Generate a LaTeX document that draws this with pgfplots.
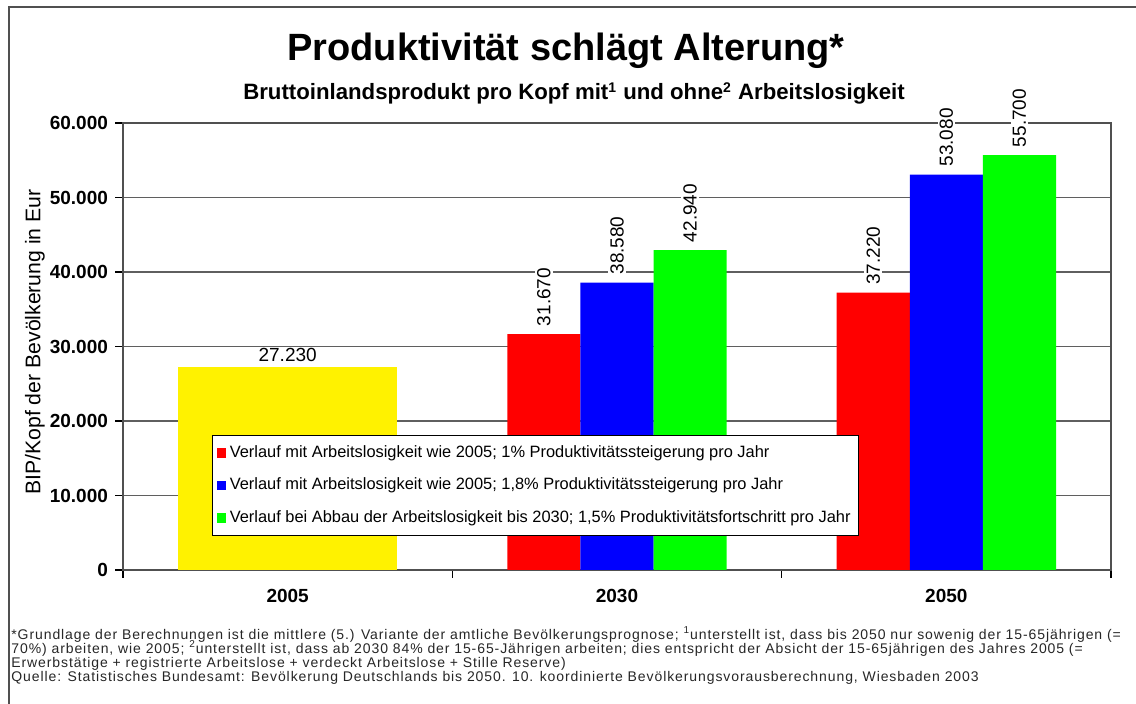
\documentclass[border=0pt]{standalone}
\usepackage{pgfplots}
\pgfplotsset{compat=1.18}
\usepackage{fontspec}
\setmainfont{Liberation Sans}
\newfontfamily\fnfont[LetterSpace=6.5]{Liberation Sans}
\definecolor{gridc}{RGB}{95,95,95}
\definecolor{frame}{RGB}{80,80,80}
\begin{document}
\begin{tikzpicture}
\path[use as bounding box] (0,0) rectangle (568pt,352pt);
\draw[frame, line width=1pt] (4.5pt,0) -- (4.5pt,348.5pt) -- (568pt,348.5pt);
\node[anchor=base, font=\bfseries\fontsize{19}{22}\selectfont] at (283pt,321.5pt) {Produktivität schlägt Alterung*};
\node[anchor=base, font=\bfseries\fontsize{11.1}{13}\selectfont] at (287pt,302pt) {Bruttoinlandsprodukt pro Kopf mit\textsuperscript{\fontsize{7}{8}\selectfont 1} und ohne\textsuperscript{\fontsize{7}{8}\selectfont 2} Arbeitslosigkeit};
\node[rotate=90, font=\fontsize{10.6}{12}\selectfont] at (17.5pt,181pt) {BIP/Kopf der Bevölkerung in Eur};
\begin{axis}[
  at={(61.5pt,67pt)}, anchor=south west,
  width=494pt, height=223.5pt, scale only axis,
  ybar, ymin=0, ymax=60000, xmin=-0.5, xmax=2.5,
  ytick={0,10000,...,60000},
  scaled y ticks=false,
  /pgf/number format/.cd, fixed, 1000 sep={.}, assume math mode=true,
  /pgfplots/.cd,
  ymajorgrids,
  grid style={gridc, line width=0.9pt},
  axis line style={frame, line width=0.8pt},
  tick style={black, line width=0.6pt},
  tick align=outside,
  tick pos=left,
  major tick length=4pt,
  xtick={-0.5,0.5,1.5,2.5}, xticklabels={},
  extra x ticks={0,1,2},
  extra x tick labels={2005,2030,2050},
  extra x tick style={major tick length=0pt, tick label style={yshift=-6pt}},
  tick label style={font=\bfseries\fontsize{9.5}{11}\selectfont},
  legend cell align=left,
  legend style={at={(0.0901,0.302)}, anchor=north west, draw=black, line width=0.6pt,
    fill=white, font=\fontsize{8.2}{10}\selectfont, row sep=4.8pt,
    inner xsep=2pt, inner ysep=3pt},
  legend image code/.code={\fill[#1] (0pt,-2.3pt) rectangle (4.6pt,2.3pt);},
]
\addplot[fill=yellow, draw=none, bar width=0.666, bar shift=0, forget plot,
  nodes near coords,
  nodes near coords style={fill=white, inner sep=1pt, outer sep=1.5pt, font=\fontsize{9.5}{11}\selectfont}]
  coordinates {(0,27230)};
\addplot[fill=red, draw=none, bar width=0.222, bar shift=-0.222,
  nodes near coords, nodes near coords align={horizontal},
  nodes near coords style={rotate=90, fill=white, inner sep=1pt, outer sep=3pt, font=\fontsize{9.5}{11}\selectfont}]
  coordinates {(1,31670) (2,37220)};
\addplot[fill=blue, draw=none, bar width=0.222, bar shift=0,
  nodes near coords, nodes near coords align={horizontal},
  nodes near coords style={rotate=90, fill=white, inner sep=1pt, outer sep=3pt, font=\fontsize{9.5}{11}\selectfont}]
  coordinates {(1,38580) (2,53080)};
\addplot[fill=green, draw=none, bar width=0.222, bar shift=0.222,
  nodes near coords, nodes near coords align={horizontal},
  nodes near coords style={rotate=90, fill=white, inner sep=1pt, outer sep=3pt, font=\fontsize{9.5}{11}\selectfont}]
  coordinates {(1,42940) (2,55700)};
\legend{Verlauf mit Arbeitslosigkeit wie 2005; 1\% Produktivitätssteigerung pro Jahr,
  Verlauf mit Arbeitslosigkeit wie 2005; 1{,}8\% Produktivitätssteigerung pro Jahr,
  Verlauf bei Abbau der Arbeitslosigkeit bis 2030; 1{,}5\% Produktivitätsfortschritt pro Jahr}
\end{axis}
\begin{scope}[every node/.style={anchor=base west, inner sep=0pt, font=\fnfont\fontsize{7}{8}\selectfont, text=black!85}]
\node at (5.5pt,32.25pt) {*Grundlage der Berechnungen ist die mittlere (5.) Variante der amtliche Bevölkerungsprognose; \textsuperscript{\fontsize{5}{6}\selectfont 1}unterstellt ist, dass bis 2050 nur sowenig der 15-65jährigen (=};
\node at (5.5pt,25.25pt) {70\%) arbeiten, wie 2005; \textsuperscript{\fontsize{5}{6}\selectfont 2}unterstellt ist, dass ab 2030 84\% der 15-65-Jährigen arbeiten; dies entspricht der Absicht der 15-65jährigen des Jahres 2005 (=};
\node at (5.5pt,18.25pt) {Erwerbstätige + registrierte Arbeitslose + verdeckt Arbeitslose + Stille Reserve)};
\node at (5.5pt,11.25pt) {Quelle: Statistisches Bundesamt: Bevölkerung Deutschlands bis 2050. 10. koordinierte Bevölkerungsvorausberechnung, Wiesbaden 2003};
\end{scope}
\end{tikzpicture}
\end{document}
